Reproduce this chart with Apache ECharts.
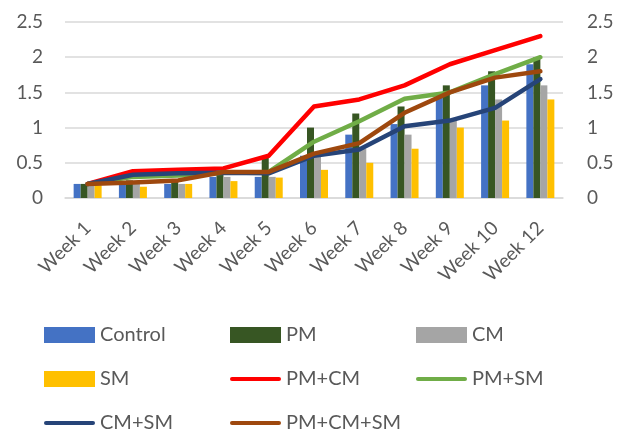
<!DOCTYPE html>
<html>
<head>
<meta charset="utf-8">
<script src="https://cdn.jsdelivr.net/npm/echarts@6/dist/echarts.min.js"></script>
<style>
  html, body { margin: 0; padding: 0; background: #fff; }
  #main { width: 629px; height: 435px; }
</style>
</head>
<body>
<div id="main"></div>
<script>
// categories and series
const weeks = ['Week 1', 'Week 2', 'Week 3', 'Week 4', 'Week 5', 'Week 6', 'Week 7', 'Week 8', 'Week 9', 'Week 10', 'Week 12']
const control = [0.2, 0.2, 0.2, 0.3, 0.3, 0.6, 0.9, 1.05, 1.45, 1.6, 1.9]
const pm = [0.2, 0.25, 0.25, 0.35, 0.57, 1.0, 1.2, 1.3, 1.6, 1.8, 2.0]
const cm = [0.18, 0.2, 0.2, 0.3, 0.3, 0.6, 0.7, 0.9, 1.1, 1.4, 1.6]
const sm = [0.18, 0.16, 0.2, 0.24, 0.29, 0.4, 0.5, 0.7, 1.0, 1.1, 1.4]
const pmCm = [0.2, 0.38, 0.4, 0.42, 0.6, 1.3, 1.4, 1.6, 1.9, 2.1, 2.3]
const pmSm = [0.2, 0.3, 0.32, 0.36, 0.37, 0.8, 1.09, 1.41, 1.5, 1.76, 2.0]
const cmSm = [0.2, 0.33, 0.35, 0.36, 0.35, 0.6, 0.69, 1.02, 1.1, 1.28, 1.69]
const pmCmSm = [0.2, 0.22, 0.25, 0.37, 0.37, 0.63, 0.78, 1.21, 1.5, 1.71, 1.8]
const yTicks = [0, 0.5, 1, 1.5, 2, 2.5]
// legend grid: 3 columns, filled row by row
const legendOrder = ['Control', 'PM', 'CM', 'SM', 'PM+CM', 'PM+SM', 'CM+SM', 'PM+CM+SM']

const font = 'Lato, "Liberation Sans", sans-serif'
const txt = '#595959'
const lineIcon = 'path://M2,0 H49 A2,2 0 0 1 49,4 H2 A2,2 0 0 1 2,0 Z'
const colX = [44, 230, 416]
const rowY = [336, 380, 424]

function bar(name, data, color) {
  return {
    name: name, type: 'bar', data: data, yAxisIndex: 0,
    barWidth: 7, barGap: '0%',
    itemStyle: { color: color }
  }
}
function line(name, data, color) {
  return {
    name: name, type: 'line', data: data, yAxisIndex: 1,
    symbol: 'none', color: color,
    lineStyle: { width: 4.5, color: color, cap: 'round', join: 'round' },
    itemStyle: { color: color }
  }
}
function legendItem(n, i) {
  return {
    left: colX[i % 3], top: rowY[Math.floor(i / 3)] - 11,
    padding: 0,
    itemWidth: 51, itemHeight: 16,
    textStyle: { fontFamily: font, fontSize: 20, color: txt },
    data: [n.indexOf('+') >= 0 ? { name: n, icon: lineIcon } : { name: n, icon: 'rect' }]
  }
}

const chart = echarts.init(document.getElementById('main'))
chart.setOption({
  animation: false,
  grid: { left: 65, right: 66, top: 22, bottom: 237, containLabel: false },
  legend: legendOrder.map(legendItem),
  xAxis: {
    type: 'category', data: weeks,
    axisLine: { lineStyle: { color: '#d9d9d9', width: 1.5 } },
    axisTick: { show: false },
    axisLabel: { rotate: 45, margin: 27, interval: 0, fontFamily: font, fontSize: 19, color: txt }
  },
  yAxis: [0, 1].map(function (i) {
    return {
      type: 'value', min: yTicks[0], max: yTicks[yTicks.length - 1], interval: 0.5,
      position: i ? 'right' : 'left',
      axisLine: { show: false }, axisTick: { show: false },
      splitLine: { show: i === 0, lineStyle: { color: '#d9d9d9', width: 1.5 } },
      axisLabel: { margin: i ? 24 : 22, fontFamily: font, fontSize: 19, color: txt }
    }
  }),
  series: [
    bar('Control', control, '#4472C4'),
    bar('PM', pm, '#375623'),
    bar('CM', cm, '#A5A5A5'),
    bar('SM', sm, '#FFC000'),
    line('PM+CM', pmCm, '#FF0000'),
    line('PM+SM', pmSm, '#70AD47'),
    line('CM+SM', cmSm, '#264478'),
    line('PM+CM+SM', pmCmSm, '#9E480E')
  ]
})
</script>
</body>
</html>
